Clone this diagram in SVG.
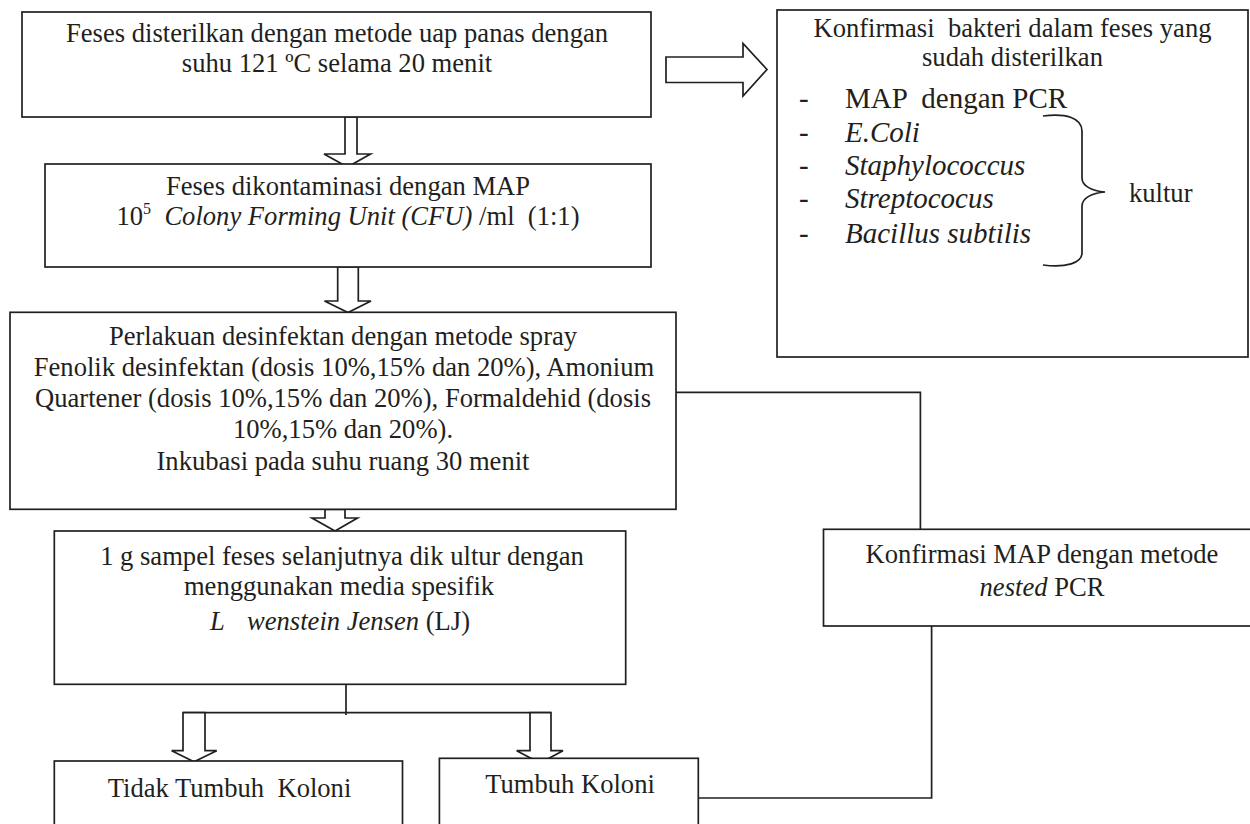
<svg xmlns="http://www.w3.org/2000/svg" width="1250" height="824" viewBox="0 0 1250 824" xml:space="preserve">
<style>
  text { font-family: "Liberation Serif", "Times New Roman", serif; font-size: 26.6px; fill: #231f20; white-space: pre; }
  .c { text-anchor: middle; }
  .i { font-style: italic; }
  .big { font-size: 29px; }
  .box { fill: #ffffff; stroke: #231f20; stroke-width: 1.7; }
  .ln { fill: none; stroke: #231f20; stroke-width: 1.7; }
  .harrow { fill: #ffffff; stroke: #231f20; stroke-width: 1.7; stroke-linejoin: miter; }
  .solid { fill: #231f20; stroke: none; }
</style>
<rect width="1250" height="824" fill="#ffffff"/>

<g id="connectors">
  <polygon class="harrow" points="666,57 743,57 743,43.5 767,69.5 743,96 743,82.5 666,82.5"/>
  <polygon class="harrow" points="345,117 357,117 357,154 370.5,154 347.5,167 324,154 345,154"/>
  <polygon class="harrow" points="337.7,267 358.3,267 358.3,301 371,301 348,312.5 324.5,301 337.7,301"/>
  <polygon class="harrow" points="325,509.5 345,509.5 345,518 357.5,518 335,531 312,518 325,518"/>
  <line class="ln" x1="346" y1="673" x2="346" y2="715"/>
  <line class="ln" x1="183" y1="712.7" x2="551" y2="712.7"/>
  <polygon class="harrow" points="183,712.7 205,712.7 205,750.7 216.7,750.7 194,761.7 171.7,750.7 183,750.7"/>
  <polygon class="harrow" points="530,712.7 551,712.7 551,750.7 563,750.7 540,763 516.7,750.7 530,750.7"/>
  <polyline class="ln" points="676,392.3 920.4,392.3 920.4,529.3"/>
  <polyline class="ln" points="931.6,626 931.6,798 698.3,798"/>
  <line class="ln" x1="197.7" y1="617" x2="197.7" y2="634"/>
  <polygon class="solid" points="190.2,632.5 205.2,632.5 197.7,648.3"/>
  <line class="ln" x1="519.3" y1="617" x2="519.3" y2="634"/>
  <polygon class="solid" points="511.8,632.5 526.8,632.5 519.3,648.3"/>
</g>

<g id="node-sterilisasi">
  <rect class="box" x="22" y="12" width="629" height="105"/>
  <text class="c" x="337" y="42">Feses disterilkan dengan metode uap panas dengan</text>
  <text class="c" x="337" y="72">suhu 121 ºC selama 20 menit</text>
</g>

<g id="node-kontaminasi">
  <rect class="box" x="45" y="164" width="606" height="103"/>
  <text class="c" x="348" y="195">Feses dikontaminasi dengan MAP</text>
  <text class="c" x="348" y="225">10<tspan font-size="16" dy="-11">5</tspan><tspan dy="11">  </tspan><tspan class="i">Colony Forming Unit (CFU)</tspan> /ml  (1:1)</text>
</g>

<g id="node-konfirmasi-bakteri">
  <rect class="box" x="777" y="10" width="471" height="347"/>
  <text class="c" x="1012.5" y="37">Konfirmasi  bakteri dalam feses yang</text>
  <text class="c" x="1012.5" y="66">sudah disterilkan</text>
  <text class="big" x="799" y="108">-</text>
  <text class="big" x="845" y="108">MAP  dengan PCR</text>
  <text class="big" x="799" y="142">-</text>
  <text class="big i" x="845" y="142">E.Coli</text>
  <text class="big" x="799" y="175">-</text>
  <text class="big i" x="845" y="175">Staphylococcus</text>
  <text class="big" x="799" y="208">-</text>
  <text class="big i" x="845" y="208">Streptococus</text>
  <text class="big" x="799" y="243">-</text>
  <text class="big i" x="845" y="243">Bacillus subtilis</text>
  <path class="ln" d="M1043,116 C1066,113 1082,118 1082,131 L1082,178 C1082,186 1092,191 1105,192 C1092,193 1082,198 1082,206 L1082,253 C1082,263 1066,268 1043,265"/>
  <text x="1129" y="202">kultur</text>
</g>

<g id="node-desinfektan">
  <rect class="box" x="10" y="312.3" width="666" height="197"/>
  <text class="c" x="343" y="345">Perlakuan desinfektan dengan metode spray</text>
  <text class="c" x="344" y="376">Fenolik desinfektan (dosis 10%,15% dan 20%), Amonium</text>
  <text class="c" x="343" y="407">Quartener (dosis 10%,15% dan 20%), Formaldehid (dosis</text>
  <text class="c" x="343" y="438">10%,15% dan 20%).</text>
  <text class="c" x="343" y="470">Inkubasi pada suhu ruang 30 menit</text>
</g>

<g id="node-kultur">
  <rect class="box" x="54.3" y="531" width="571.4" height="153.3"/>
  <text class="c" x="342" y="565">1 g sampel feses selanjutnya dik ultur dengan</text>
  <text class="c" x="339" y="595">menggunakan media spesifik</text>
  <text x="210" y="630"><tspan class="i">L</tspan><tspan class="i" x="247">wenstein Jensen</tspan> (LJ)</text>
</g>

<g id="node-nested-pcr">
  <rect class="box" x="823.5" y="529.3" width="440" height="96.7"/>
  <text class="c" x="1042" y="563">Konfirmasi MAP dengan metode</text>
  <text class="c" x="1042" y="596"><tspan class="i">nested</tspan> PCR</text>
</g>

<g id="node-tidak-tumbuh">
  <rect class="box" x="54.3" y="761" width="348.2" height="80"/>
  <text class="c" x="229.5" y="797">Tidak Tumbuh  Koloni</text>
</g>

<g id="node-tumbuh">
  <rect class="box" x="439.4" y="758.3" width="258.9" height="80"/>
  <text class="c" x="570" y="793">Tumbuh Koloni</text>
</g>
</svg>
